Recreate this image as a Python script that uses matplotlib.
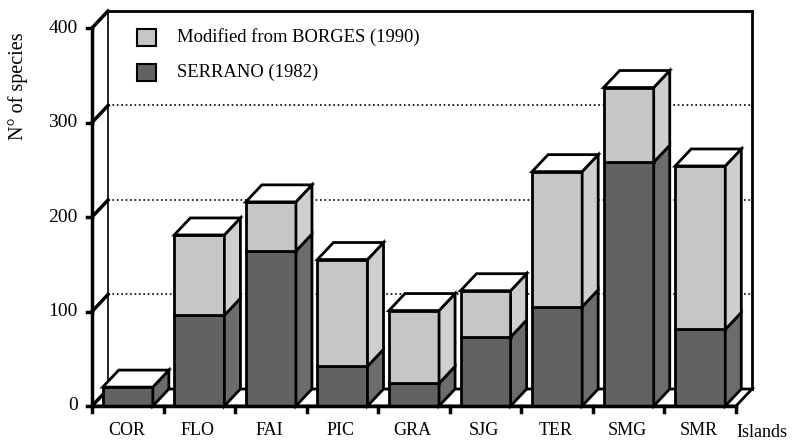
import numpy as np
import matplotlib.pyplot as plt
from matplotlib.patches import Polygon, Rectangle

plt.rcParams['font.family'] = ['Liberation Serif', 'DejaVu Serif']

# data
islands = ['COR', 'FLO', 'FAI', 'PIC', 'GRA', 'SJG', 'TER', 'SMG', 'SMR']
serrano = [20, 96, 164, 42, 24, 73, 105, 258, 81]
borges = [20, 181, 216, 155, 101, 122, 248, 337, 254]
yticks = [0, 100, 200, 300, 400]

# colours / geometry of the pseudo-3D boxes
light_front, light_side = '#c6c6c6', '#cfcfcf'
dark_front, dark_side = '#626262', '#6c6c6c'
dx, dy = 0.224, 18.0     # depth offset (category units, species)
bw, off = 0.70, 0.15     # bar width and offset in a category
lw = 2.0

sx = 644 / 9.0
sy = 378 / 400.0

fig = plt.figure(figsize=(7.95, 4.41), dpi=100)
ax = fig.add_axes([0, 0, 1, 1])
ax.set_xlim(-92 / sx, (795 - 92) / sx)
ax.set_ylim(-(441 - 406) / sy, 406 / sy)
ax.axis('off')

n = len(islands)

# back wall
ax.add_patch(Rectangle((dx, dy), n, 400, facecolor='white', edgecolor='none', zorder=0))
for v in yticks[1:-1]:
    ax.plot([dx, n + dx], [v + dy, v + dy], ls=':', color='k', lw=1.2, zorder=1)
ax.plot([dx, n + dx], [400 + dy, 400 + dy], color='k', lw=lw, zorder=1)
ax.plot([n + dx, n + dx], [dy, 400 + dy], color='k', lw=lw, zorder=1)
ax.plot([dx, dx], [dy, 400 + dy], color='k', lw=1.2, zorder=1)

# floor
ax.add_patch(Polygon([(0, 0), (n, 0), (n + dx, dy), (dx, dy)], closed=True,
                     facecolor='white', edgecolor='k', lw=lw, zorder=1))

# left wall and front y axis
for v in yticks:
    ax.plot([0, dx], [v, v + dy], color='k', lw=2.5, zorder=1)
    ax.plot([-0.07, 0], [v, v], color='k', lw=2.5, zorder=1)
    ax.text(-0.2, v, str(v), ha='right', va='center', fontsize=14)
ax.plot([0, 0], [0, 400], color='k', lw=2.5, zorder=1)


def box(x, y0, y1, front, side):
    ax.add_patch(Rectangle((x, y0), bw, y1 - y0, facecolor=front,
                           edgecolor='k', lw=lw, zorder=3))
    ax.add_patch(Polygon([(x + bw, y0), (x + bw + dx, y0 + dy),
                          (x + bw + dx, y1 + dy), (x + bw, y1)], closed=True,
                         facecolor=side, edgecolor='k', lw=lw, zorder=3))


for i in range(n):
    x = i + off
    box(x, 0, serrano[i], dark_front, dark_side)
    if borges[i] > serrano[i]:
        box(x, serrano[i], borges[i], light_front, light_side)
    top = borges[i]
    ax.add_patch(Polygon([(x, top), (x + dx, top + dy), (x + bw + dx, top + dy),
                          (x + bw, top)], closed=True, facecolor='white',
                         edgecolor='k', lw=lw, zorder=3))

# x axis
ax.plot([0, n], [0, 0], color='k', lw=2.5, zorder=4)
for i in range(n + 1):
    ax.plot([i, i], [0, -6], color='k', lw=2.5, zorder=4)
for i, name in enumerate(islands):
    ax.text(i + 0.48, -26, name, ha='center', va='center', fontsize=13)
ax.text(9.36, -28, 'Islands', ha='center', va='center', fontsize=13)

ax.text(-1.03, 338, 'N° of species', rotation=90, ha='center', va='center',
        fontsize=14.5)

# legend
for k, (lab, col) in enumerate([('Modified from BORGES (1990)', light_front),
                                 ('SERRANO (1982)', dark_front)]):
    yc = 390 - k * 37
    ax.add_patch(Rectangle((0.63, yc - 9), 0.27, 18, facecolor=col,
                           edgecolor='k', lw=1.5, zorder=5))
    ax.text(1.19, yc, lab, ha='left', va='center', fontsize=13.4)

plt.savefig('out.png', dpi=100)
